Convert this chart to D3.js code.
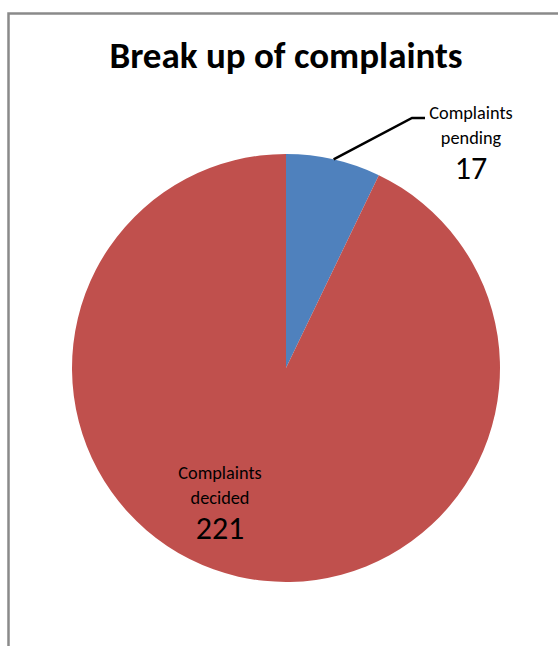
<!DOCTYPE html>
<html><head><meta charset="utf-8">
<script src="https://cdn.jsdelivr.net/npm/d3@7"></script>
<style>body{margin:0;background:#fff}svg{display:block}text{font-family:Carlito,Calibri,Lato,sans-serif;fill:#000}</style>
</head><body>
<svg id="c" width="558" height="646"></svg>
<script>
const categories = ["Complaints pending", "Complaints decided"];
const values = [17, 221];
const colors = ["#4F81BD", "#C0504D"];
const title = "Break up of complaints";

const svg = d3.select("#c");
// chart border (top and left visible)
svg.append("path").attr("d","M8.5,646 L8.5,13.5 L558,13.5").attr("fill","none").attr("stroke","#8a8a8a").attr("stroke-width",2.5);

svg.append("text").attr("x",286).attr("y",68).attr("text-anchor","middle")
  .style("font-weight","bold").style("font-size","37px").text(title);

const cx=286, cy=368, R=214;
const g = svg.append("g").attr("transform",`translate(${cx},${cy})`);
const pie = d3.pie().sort(null).value(d=>d)(values);
const arc = d3.arc().innerRadius(0).outerRadius(R);
g.selectAll("path.s").data(pie).join("path").attr("class","s")
  .attr("d",arc).attr("fill",(d,i)=>colors[i]);

// leader line for pending slice
const p0 = pie[0];
const mid = (p0.startAngle+p0.endAngle)/2;
const sx = Math.sin(mid)*R, sy = -Math.cos(mid)*R;
const ex = 412-cx, ey = 118-cy;
g.append("polyline").attr("points",`${sx},${sy} ${ex},${ey} ${ex+13},${ey}`)
  .attr("fill","none").attr("stroke","#000").attr("stroke-width",2.5);

function label(x, y, name, val){
  const words = name.split(" ");
  const t = svg.append("g");
  t.append("text").attr("x",x).attr("y",y).attr("text-anchor","middle").style("font-size","18.3px").text(words[0]);
  t.append("text").attr("x",x).attr("y",y+24.5).attr("text-anchor","middle").style("font-size","18.3px").text(words[1]);
  t.append("text").attr("x",x).attr("y",y+60).attr("text-anchor","middle").style("font-size","32px").text(val);
}
label(471, 119, categories[0], values[0]);
label(220, 479, categories[1], values[1]);
</script>
</body></html>
